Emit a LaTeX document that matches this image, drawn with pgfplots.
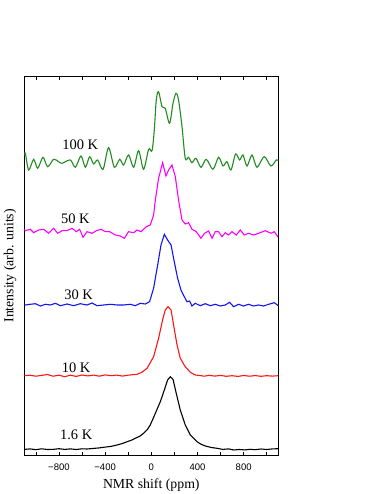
\documentclass[border=0pt]{standalone}
\usepackage{fontspec}
\setmainfont{Liberation Serif}
\newfontfamily\sansf{Liberation Sans}
\usepackage{pgfplots}
\pgfplotsset{compat=1.18}
\definecolor{cgreen}{RGB}{34,139,34}
\definecolor{cmag}{RGB}{255,0,255}
\definecolor{cblue}{RGB}{20,20,240}
\definecolor{cred}{RGB}{255,20,20}
\begin{document}
\begin{tikzpicture}
\useasboundingbox (0,0) rectangle (382pt,494pt);
\begin{axis}[
  at={(24.3pt,38.3pt)}, anchor=south west,
  scale only axis, width=254pt, height=379.7pt,
  xmin=-1100, xmax=1100, ymin=0, ymax=379.7,
  axis line style={line width=0.8pt},
  ytick=\empty,
  xtick={-800,-400,0,400,800},
  xticklabels={−800,−400,0,400,800},
  minor xtick={-1000,-600,-200,200,600,1000},
  tick align=inside,
  xtick pos=both,
  major tick length=4pt, minor tick length=4pt,
  tick style={line width=0.6pt, black},
  xticklabel style={font=\sansf\fontsize{9.5}{11}\selectfont, anchor=base, yshift=-15.3pt},
  xlabel={NMR shift (ppm)},
  ylabel={Intensity (arb. units)},
  label style={font=\fontsize{13.8}{16}\selectfont},
  xlabel style={at={(axis description cs:0.5,-0.077)}, anchor=center},
  ylabel style={at={(axis description cs:-0.056,0.5)}, anchor=center},
  clip=true,
]
% 100 K
\addplot[color=cgreen, line width=1.1pt, smooth] coordinates {
(-1100,300) (-1091,302.4) (-1062,285.7) (-1019,296.4) (-984,287.4) (-938,298.4) (-898,289) (-846,296.4)
(-803,294) (-773,292.4) (-701,295.7) (-658,288.4) (-609,299.7) (-571,288.4) (-534,299) (-500,291.7)
(-465,295.7) (-418,286.4) (-370,308) (-320,288.4) (-274,296.4) (-240,290.7) (-197,300.7) (-153,288.4)
(-110,305) (-67,286.4) (-23,306.4) (6,305) (26,325.7) (43,355.7) (63,364) (93,349) (121,347.4)
(158,332.4) (188,352.4) (214,362.4) (236,355.7) (266,329) (294,297.4) (323,298.4) (352,293) (387,297.4)
(430,288.4) (476,296.4) (534,286.4) (583,298.4) (621,289.7) (655,294) (690,285.7) (730,301.7) (765,295.7)
(794,300.7) (829,289.7) (872,300.7) (915,288.4) (978,299) (1036,289.7) (1082,295.7) (1100,295)
};
% 50 K
\addplot[color=cmag, line width=1.1pt] coordinates {
(-1100,226) (-1091,225) (-1048,226.4) (-1019,223) (-976,225.7) (-932,226.4) (-889,222.4) (-846,227.4)
(-811,222.4) (-773,225) (-730,225) (-687,227.4) (-649,224) (-621,226.4) (-591,218.4) (-557,224)
(-513,222.4) (-476,225) (-435,226.4) (-398,224) (-361,224) (-312,220.7) (-268,219.7) (-234,217.4)
(-197,224) (-153,223) (-124,225.7) (-89,224) (-43,229) (-9,230.7) (20,240.7) (35,255.7) (63,277.4)
(98,293) (127,279.7) (150,285.7) (179,290.7) (208,279) (236,255.7) (266,235.7) (294,231.7) (323,233)
(352,226.4) (390,224) (430,217.4) (461,222.4) (496,224.7) (526,217.4) (554,224) (583,224) (612,219)
(641,223) (669,220.7) (699,224) (736,220.7) (771,225.7) (805,220.7) (842,222.4) (886,220.7) (929,222.4)
(987,225) (1036,222.4) (1065,224) (1100,218.4)
};
% 30 K
\addplot[color=cblue, line width=1.1pt] coordinates {
(-1100,150.5) (-1091,150.7) (-1048,151.4) (-1004,152) (-961,149.7) (-918,151.4) (-874,150.7) (-831,152.4)
(-788,150) (-730,151.7) (-673,150) (-615,152) (-557,150.7) (-513,152.7) (-470,150) (-413,150.7)
(-355,151.4) (-297,150.7) (-240,150.7) (-182,151.4) (-139,150) (-95,152.4) (-52,151.7) (-15,154)
(20,167.4) (55,190.7) (84,210.7) (113,221.4) (141,215.7) (171,210.7) (199,194) (228,177.4) (257,165.7)
(286,159) (309,154) (332,154.7) (352,149.7) (381,152.4) (424,150) (468,152) (511,150) (554,151.4)
(597,149.7) (641,150.7) (678,153.4) (713,149) (756,151.4) (799,149.7) (842,151.4) (886,149.7) (929,150.7)
(972,149.7) (1016,151.4) (1065,153) (1100,150)
};
% 10 K
\addplot[color=cred, line width=1.1pt] coordinates {
(-1100,80) (-1050,80.5) (-1000,79.5) (-950,80.3) (-900,81.2) (-850,79.5) (-800,80.5) (-750,79)
(-700,80.5) (-650,79.3) (-600,80.7) (-550,79.8) (-500,80.6) (-450,79.5) (-400,80.8) (-350,80)
(-300,80.6) (-250,79.6) (-200,80.5) (-160,81) (-124,81.4) (-80,83.5) (-37,87.4) (20,99) (63,117.4)
(101,137.4) (121,145.7) (145,149) (171,145.7) (193,130.7) (223,110.7) (251,97.4) (294,89) (338,83.4)
(381,80.7) (420,80.2) (460,79.5) (500,80.4) (550,79.6) (600,80.3) (650,79.4) (700,80) (750,79.3)
(800,80.2) (850,79.5) (900,80.1) (950,79.4) (1000,80) (1050,79.6) (1100,80)
};
% 1.6 K
\addplot[color=black, line width=1.1pt] coordinates {
(-1100,6.3) (-1050,6.8) (-1000,6.0) (-950,6.9) (-900,6.2) (-846,6.4) (-800,7.0) (-750,6.3) (-700,6.8)
(-650,6.2) (-600,6.9) (-557,6.7) (-500,7.3) (-450,7.8) (-413,8.4) (-350,9.3) (-297,10.7) (-250,12.2)
(-210,14) (-170,15.6) (-139,17.4) (-100,19.5) (-67,22.4) (-35,26) (-9,30.7) (35,42.4) (78,54) (113,65.7)
(141,75.7) (165,79) (188,76.4) (216,62.4) (251,45.7) (294,30.7) (338,20.7) (396,14) (430,11.5) (468,9.7)
(520,8.2) (569,7.4) (620,6.3) (670,6.8) (713,5.7) (760,6.2) (810,5.8) (857,6.4) (900,6.0) (950,6.7)
(1000,6.2) (1050,6.8) (1100,7)
};
\node[font=\fontsize{14.5}{17}\selectfont] at (axis cs:-615,311) {100 K};
\node[font=\fontsize{14.5}{17}\selectfont] at (axis cs:-658,237.4) {50 K};
\node[font=\fontsize{14.5}{17}\selectfont] at (axis cs:-629,161.2) {30 K};
\node[font=\fontsize{14.5}{17}\selectfont] at (axis cs:-651,87.9) {10 K};
\node[font=\fontsize{14.5}{17}\selectfont] at (axis cs:-651,21) {1.6 K};
\end{axis}
\end{tikzpicture}
\end{document}
